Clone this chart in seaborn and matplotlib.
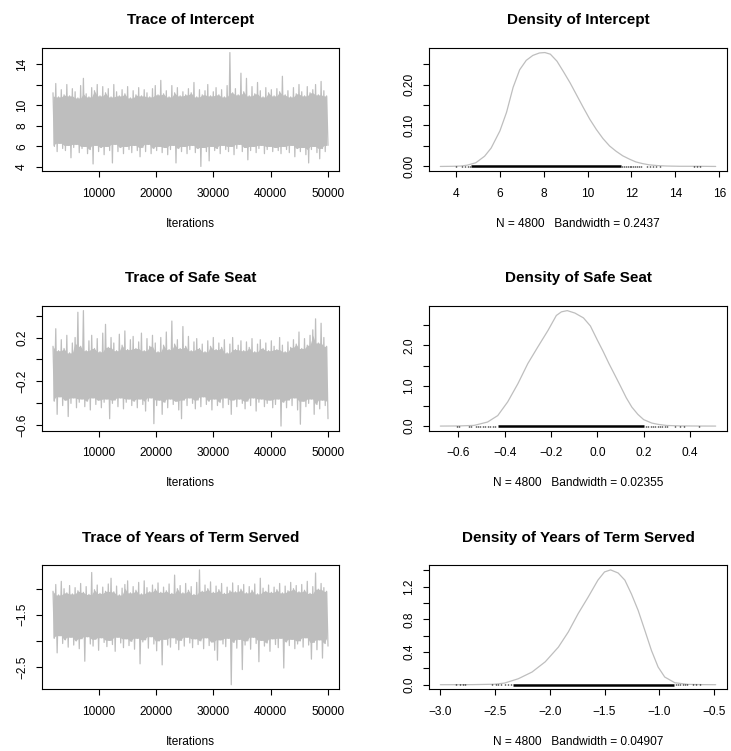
import numpy as np
import pandas as pd
import matplotlib
matplotlib.use("Agg")
import matplotlib.pyplot as plt
import seaborn as sns

# ---------------- data ----------------
iter_start, iter_end = 2010, 50000

# Trace of Intercept: upper / lower stroke tips (alternating)
trace1_hi = [11.2, 12.1, 10.8, 11.5, 11.0, 12.0, 10.9, 11.6, 11.3, 10.7,
             11.9, 12.6, 11.1, 10.8, 11.7, 11.4, 12.0, 10.9, 11.8, 11.2,
             11.6, 10.8, 12.0, 11.3, 10.9, 11.5, 11.1, 11.8, 10.7, 11.4,
             11.0, 11.7, 10.9, 11.5, 11.2, 10.8, 11.6, 11.9, 11.0, 12.4,
             11.1, 11.4, 10.8, 11.9, 11.2, 11.7, 10.9, 11.3, 11.0, 11.6,
             11.2, 12.2, 10.8, 11.5, 11.0, 11.4, 12.0, 10.9, 11.3, 11.7,
             11.0, 11.5, 10.8, 11.9, 15.1, 11.2, 11.6, 11.0, 13.1, 11.3,
             12.6, 10.9, 11.8, 11.1, 12.2, 11.4, 10.8, 11.7, 11.2, 11.5,
             10.9, 11.6, 11.3, 12.8, 11.0, 11.4, 10.8, 11.7, 11.1, 12.0,
             11.3, 10.9, 11.8, 11.2, 11.5, 12.0, 11.0, 12.3, 11.4, 10.9]
trace1_lo = [6.0, 5.5, 6.3, 5.8, 5.6, 6.1, 4.9, 5.9, 6.2, 5.4,
             5.8, 6.0, 5.3, 5.7, 4.3, 6.1, 5.5, 5.9, 5.2, 6.0,
             5.6, 4.4, 6.2, 5.5, 5.9, 5.3, 6.0, 5.7, 5.4, 6.1,
             5.6, 5.0, 5.9, 5.5, 6.2, 5.3, 5.8, 5.6, 6.0, 5.4,
             5.9, 5.2, 5.7, 6.1, 4.4, 5.8, 5.5, 6.0, 5.3, 5.7,
             6.1, 5.4, 5.8, 4.06, 5.9, 5.5, 4.6, 6.0, 5.6, 5.8,
             5.3, 6.1, 5.7, 5.5, 6.0, 5.2, 5.8, 6.2, 5.5, 5.9,
             4.7, 5.6, 6.0, 5.4, 5.8, 6.1, 5.3, 5.7, 6.0, 5.5,
             5.9, 5.6, 5.3, 6.0, 5.7, 5.4, 6.1, 5.0, 5.8, 5.5,
             5.9, 5.2, 4.4, 5.7, 6.0, 5.4, 4.8, 5.8, 5.5, 6.1]

# Trace of Safe Seat
trace2_hi = [0.12, 0.28, 0.08, 0.18, 0.10, 0.22, 0.06, 0.15, 0.20, 0.43,
             0.12, 0.445, 0.08, 0.17, 0.22, 0.10, 0.19, 0.07, 0.24, 0.32,
             0.11, 0.20, 0.15, 0.08, 0.23, 0.13, 0.26, 0.09, 0.18, 0.21,
             0.10, 0.16, 0.24, 0.08, 0.19, 0.12, 0.22, 0.15, 0.07, 0.20,
             0.13, 0.25, 0.09, 0.35, 0.14, 0.18, 0.10, 0.30, 0.12, 0.21,
             0.08, 0.16, 0.19, 0.10, 0.14, 0.07, 0.17, 0.12, 0.20, 0.09,
             0.15, 0.11, 0.18, 0.06, 0.14, 0.20, 0.09, 0.13, 0.17, 0.08,
             0.16, 0.11, 0.19, 0.07, 0.14, 0.18, 0.10, 0.15, 0.08, 0.17,
             0.12, 0.09, 0.20, 0.13, 0.07, 0.16, 0.11, 0.18, 0.14, 0.25,
             0.10, 0.19, 0.13, 0.22, 0.27, 0.37, 0.15, 0.33, 0.20, 0.12]
trace2_lo = [-0.38, -0.50, -0.34, -0.42, -0.37, -0.52, -0.40, -0.35, -0.44, -0.39,
             -0.36, -0.43, -0.38, -0.46, -0.35, -0.41, -0.37, -0.44, -0.39, -0.36,
             -0.54, -0.40, -0.37, -0.43, -0.35, -0.45, -0.39, -0.36, -0.42, -0.38,
             -0.44, -0.36, -0.41, -0.47, -0.38, -0.35, -0.585, -0.42, -0.37, -0.50,
             -0.39, -0.44, -0.36, -0.41, -0.38, -0.46, -0.54, -0.37, -0.42, -0.35,
             -0.40, -0.45, -0.37, -0.43, -0.34, -0.41, -0.38, -0.46, -0.36, -0.42,
             -0.39, -0.44, -0.35, -0.41, -0.50, -0.37, -0.43, -0.36, -0.40, -0.45,
             -0.38, -0.42, -0.35, -0.47, -0.39, -0.36, -0.43, -0.40, -0.37, -0.44,
             -0.41, -0.36, -0.607, -0.39, -0.44, -0.37, -0.42, -0.35, -0.46, -0.59,
             -0.38, -0.43, -0.40, -0.36, -0.50, -0.41, -0.45, -0.37, -0.42, -0.54]

# Trace of Years of Term Served
trace3_hi = [-1.05, -0.92, -1.12, -0.86, -1.00, -1.08, -0.94, -1.10, -0.98, -1.04,
             -0.90, -1.07, -0.96, -1.11, -0.69, -1.02, -0.93, -1.09, -0.97, -1.05,
             -0.91, -0.80, -1.06, -0.95, -1.12, -0.99, -0.92, -0.85, -1.08, -0.96,
             -1.03, -0.88, -1.10, -0.85, -0.98, -1.06, -0.93, -1.01, -0.89, -1.07,
             -0.97, -1.04, -0.91, -1.09, -0.74, -1.00, -0.94, -1.08, -0.90, -1.03,
             -0.96, -1.11, -0.88, -0.64, -1.05, -0.93, -1.00, -0.87, -1.07, -0.95,
             -1.02, -0.90, -1.09, -0.97, -1.04, -0.89, -1.06, -0.94, -1.01, -0.92,
             -1.08, -0.96, -1.03, -0.91, -1.10, -0.80, -0.99, -1.05, -0.93, -1.07,
             -0.97, -1.02, -0.90, -1.08, -0.95, -1.04, -0.88, -1.00, -0.94, -1.06,
             -0.92, -1.03, -0.86, -1.09, -0.96, -0.70, -1.01, -0.90, -0.98, -1.05]
trace3_lo = [-1.95, -2.23, -1.90, -2.05, -1.98, -2.12, -1.93, -2.08, -2.00, -2.15,
             -1.96, -2.39, -1.92, -2.06, -2.10, -1.97, -2.18, -1.94, -2.03, -2.11,
             -1.99, -2.07, -2.20, -1.93, -2.04, -2.13, -1.96, -2.09, -2.01, -2.16,
             -1.95, -2.44, -2.02, -1.98, -2.14, -1.92, -2.06, -2.19, -2.00, -2.46,
             -1.97, -2.08, -2.12, -1.94, -2.05, -2.17, -1.99, -2.10, -1.93, -2.04,
             -2.13, -1.96, -2.07, -2.00, -2.15, -1.94, -2.09, -2.02, -2.18, -2.37,
             -1.98, -2.06, -2.11, -1.95, -2.84, -2.03, -2.14, -1.97, -2.55, -2.08,
             -2.00, -2.16, -1.93, -2.05, -2.40, -1.99, -2.10, -2.04, -2.20, -1.96,
             -2.07, -2.13, -1.95, -2.52, -2.02, -2.09, -1.97, -2.15, -2.06, -2.00,
             -2.12, -1.94, -2.08, -2.35, -2.03, -2.17, -1.98, -2.33, -2.05, -2.10]

# Densities
dens1_x = [3.28, 3.8, 4.2, 4.5, 4.9, 5.3, 5.6, 6.0, 6.3, 6.6,
           6.9, 7.2, 7.5, 7.8, 8.05, 8.3, 8.6, 8.9, 9.2, 9.5,
           9.8, 10.1, 10.4, 10.7, 11.0, 11.3, 11.6, 11.9, 12.2, 12.5,
           12.8, 13.2, 13.6, 14.2, 15.0, 15.84]
dens1_y = [0.0, 0.0003, 0.001, 0.003, 0.009, 0.025, 0.045, 0.087, 0.132, 0.193,
           0.236, 0.259, 0.271, 0.277, 0.278, 0.274, 0.257, 0.231, 0.204, 0.174,
           0.144, 0.115, 0.090, 0.068, 0.050, 0.037, 0.026, 0.018, 0.011, 0.007,
           0.004, 0.002, 0.001, 0.0004, 0.0004, 0.0]
dens2_x = [-0.678, -0.60, -0.532, -0.474, -0.43, -0.387, -0.343, -0.30, -0.257, -0.213,
           -0.177, -0.155, -0.13, -0.097, -0.06, -0.03, 0.0, 0.025, 0.05, 0.075,
           0.099, 0.125, 0.149, 0.175, 0.20, 0.235, 0.265, 0.30, 0.36, 0.44, 0.511]
dens2_y = [0.0, 0.003, 0.017, 0.10, 0.26, 0.60, 1.05, 1.55, 1.96, 2.37,
           2.74, 2.83, 2.86, 2.80, 2.68, 2.48, 2.13, 1.85, 1.55, 1.27,
           1.00, 0.70, 0.47, 0.29, 0.16, 0.075, 0.04, 0.015, 0.004, 0.001, 0.0]
dens3_x = [-2.995, -2.7, -2.5, -2.41, -2.285, -2.16, -2.04, -1.92, -1.83, -1.74,
           -1.65, -1.56, -1.50, -1.445, -1.376, -1.315, -1.255, -1.194, -1.133, -1.073,
           -1.012, -0.952, -0.86, -0.74, -0.60, -0.488]
dens3_y = [0.0, 0.001, 0.006, 0.02, 0.073, 0.155, 0.28, 0.46, 0.645, 0.87,
           1.07, 1.28, 1.38, 1.405, 1.367, 1.28, 1.11, 0.91, 0.665, 0.42,
           0.216, 0.094, 0.024, 0.004, 0.001, 0.0]

# Observation rugs: a solid run plus isolated observations
rug1_dense = (4.70, 11.5)
rug1_obs = [4.01, 4.26, 4.41, 4.55, 4.64, 11.58, 11.66, 11.75, 11.83, 11.92, 12.0,
            12.08, 12.17, 12.26, 12.35, 12.45, 12.69, 12.84, 12.99, 13.14, 13.3,
            14.86, 14.97, 15.11]
rug2_dense = (-0.43, 0.20)
rug2_obs = [-0.607, -0.597, -0.552, -0.545, -0.525, -0.515, -0.505, -0.495, -0.485,
            -0.472, -0.462, -0.452, -0.442, 0.21, 0.22, 0.23, 0.24, 0.25, 0.26, 0.27,
            0.28, 0.29, 0.30, 0.335, 0.355, 0.375, 0.44]
rug3_dense = (-2.33, -0.87)
rug3_obs = [-2.848, -2.815, -2.79, -2.77, -2.52, -2.49, -2.47, -2.44, -2.41, -2.38,
            -2.355, -0.85, -0.83, -0.81, -0.79, -0.77, -0.75, -0.69, -0.67, -0.635]

titles_trace = ["Trace of Intercept", "Trace of Safe Seat", "Trace of Years of Term Served"]
titles_dens = ["Density of Intercept", "Density of Safe Seat", "Density of Years of Term Served"]
dens_labels = ["N = 4800   Bandwidth = 0.2437", "N = 4800   Bandwidth = 0.02355",
               "N = 4800   Bandwidth = 0.04907"]

trace_xticks = [10000, 20000, 30000, 40000, 50000]
trace_yticks = [[4, 6, 8, 10, 12, 14], [-0.6, -0.4, -0.2, 0.0, 0.2, 0.4], [-2.5, -2.0, -1.5, -1.0]]
trace_ylabels = [["4", "6", "8", "10", "", "14"], ["\u22120.6", "", "\u22120.2", "", "0.2", ""],
                 ["\u22122.5", "", "\u22121.5", ""]]
dens_xticks = [[4, 6, 8, 10, 12, 14, 16], [-0.6, -0.4, -0.2, 0.0, 0.2, 0.4],
               [-3.0, -2.5, -2.0, -1.5, -1.0, -0.5]]
dens_xlabels = [["4", "6", "8", "10", "12", "14", "16"],
                ["\u22120.6", "\u22120.4", "\u22120.2", "0.0", "0.2", "0.4"],
                ["\u22123.0", "\u22122.5", "\u22122.0", "\u22121.5", "\u22121.0", "\u22120.5"]]
dens_yticks = [[0, 0.05, 0.10, 0.15, 0.20, 0.25], [0, 0.5, 1.0, 1.5, 2.0, 2.5],
               [0, 0.2, 0.4, 0.6, 0.8, 1.0, 1.2, 1.4]]
dens_ylabels = [["0.00", "", "0.10", "", "0.20", ""], ["0.0", "", "1.0", "", "2.0", ""],
                ["0.0", "", "0.4", "", "0.8", "", "1.2", ""]]

# ---------------- style ----------------
sns.set_theme(style="ticks")
plt.rcParams["font.family"] = ["Liberation Sans", "DejaVu Sans"]
plt.rcParams.update({
    "axes.edgecolor": "black", "axes.linewidth": 0.8,
    "xtick.color": "black", "ytick.color": "black",
    "axes.labelcolor": "black", "text.color": "black",
    "axes.facecolor": "white", "figure.facecolor": "white",
})
GREY = "#BEBEBE"
TICK_FS = 8.6
TITLE_FS = 11.0

fig = plt.figure(figsize=(7.31, 7.51), dpi=100)
W, H = 731.0, 751.0
col_x = [(42, 339), (429.3, 726.7)]
row_y = [(48, 171), (306, 430.7), (565.3, 689.3)]


def make_ax(col, row):
    x0, x1 = col_x[col]
    y0, y1 = row_y[row]
    return fig.add_axes([x0 / W, 1 - y1 / H, (x1 - x0) / W, (y1 - y0) / H])


def pad_lim(lo, hi):
    r = hi - lo
    return lo - 0.04 * r, hi + 0.04 * r


def style_ax(ax, title, xlabel):
    ax.set_title(title, fontsize=TITLE_FS, fontweight="bold", pad=17)
    ax.set_xlabel(xlabel, fontsize=TICK_FS, labelpad=13)
    ax.set_ylabel("")
    ax.tick_params(direction="out", length=4, width=0.8, labelsize=TICK_FS)
    ax.tick_params(axis="x", pad=8)
    ax.tick_params(axis="y", pad=6)
    for lab in ax.get_yticklabels():
        lab.set_rotation(90)
        lab.set_va("center")
    for s in ax.spines.values():
        s.set_visible(True)
        s.set_color("black")
        s.set_linewidth(0.8)


traces = [(trace1_hi, trace1_lo), (trace2_hi, trace2_lo), (trace3_hi, trace3_lo)]
dens = [(dens1_x, dens1_y, rug1_dense, rug1_obs), (dens2_x, dens2_y, rug2_dense, rug2_obs),
        (dens3_x, dens3_y, rug3_dense, rug3_obs)]

for r in range(3):
    # trace panel
    ax = make_ax(0, r)
    hi, lo = np.asarray(traces[r][0]), np.asarray(traces[r][1])
    vals = np.column_stack([hi, lo]).ravel()
    its = np.linspace(iter_start, iter_end, len(vals))
    # solid core of the chain: the band every nearby stroke crosses
    hi_core = np.minimum.reduce([hi, np.roll(hi, 1), np.roll(hi, -1)])
    lo_core = np.maximum.reduce([lo, np.roll(lo, 1), np.roll(lo, -1)])
    ax.fill_between(its[::2], lo_core, hi_core, color=GREY, linewidth=0)
    df = pd.DataFrame({"iteration": its, "value": vals})
    sns.lineplot(data=df, x="iteration", y="value", sort=False, estimator=None,
                 color=GREY, linewidth=0.9, ax=ax)
    ax.set_xlim(*pad_lim(iter_start, iter_end))
    ax.set_ylim(*pad_lim(vals.min(), vals.max()))
    ax.set_xticks(trace_xticks)
    ax.set_xticklabels([str(t) for t in trace_xticks])
    ax.set_yticks(trace_yticks[r])
    ax.set_yticklabels(trace_ylabels[r])
    style_ax(ax, titles_trace[r], "Iterations")

    # density panel
    ax = make_ax(1, r)
    dx, dy, dense, obs = dens[r]
    ddf = pd.DataFrame({"x": dx, "density": dy})
    sns.lineplot(data=ddf, x="x", y="density", sort=False, estimator=None,
                 color=GREY, linewidth=0.9, ax=ax)
    ymax = max(dy)
    ax.plot(list(dense), [0, 0], color="black", linewidth=1.8, solid_capstyle="butt")
    ax.vlines(obs, -ymax * 0.005, ymax * 0.005, color="black", linewidth=1.0)
    ax.set_xlim(*pad_lim(min(dx), max(dx)))
    ax.set_ylim(*pad_lim(0, ymax))
    ax.set_xticks(dens_xticks[r])
    ax.set_xticklabels(dens_xlabels[r])
    ax.set_yticks(dens_yticks[r])
    ax.set_yticklabels(dens_ylabels[r])
    style_ax(ax, titles_dens[r], dens_labels[r])

fig.savefig("out.png", dpi=100)
